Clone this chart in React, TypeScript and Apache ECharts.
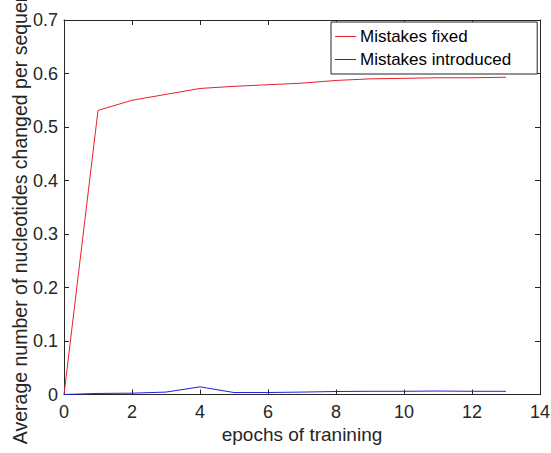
import React, { useEffect, useRef } from "react";
import * as echarts from "echarts";

const epochs = [0, 1, 2, 3, 4, 5, 6, 7, 8, 9, 10, 11, 12, 13];
const mistakesFixed = [0, 0.531, 0.55, 0.561, 0.572, 0.576, 0.579, 0.582, 0.587, 0.59, 0.591, 0.592, 0.592, 0.593];
const mistakesIntroduced = [0, 0.002, 0.0025, 0.0045, 0.0143, 0.0037, 0.0037, 0.0045, 0.0056, 0.006, 0.006, 0.0065, 0.006, 0.006];
const xTicks = [0, 2, 4, 6, 8, 10, 12, 14];
const yTicks = [0, 0.1, 0.2, 0.3, 0.4, 0.5, 0.6, 0.7];
const yTitle = "Average number of nucleotides changed per sequence";

const FONT = "Liberation Sans, Arial, sans-serif";
const AX = "#262626";

export default function App() {
  const ref = useRef<HTMLDivElement>(null);
  useEffect(() => {
    document.body.style.margin = "0";
    const chart = echarts.init(ref.current!, undefined, { renderer: "svg" });
    const axisCommon = {
      axisLine: { show: true, onZero: false, lineStyle: { color: AX, width: 1 } },
      axisTick: { show: true, inside: true, length: 5, lineStyle: { color: AX, width: 1 } },
      splitLine: { show: false },
    };
    chart.setOption({
      animation: false,
      backgroundColor: "#ffffff",
      textStyle: { fontFamily: FONT },
      grid: { left: 64, right: 11, top: 20, bottom: 58.5, containLabel: false, outerBoundsMode: "none" },
      graphic: [
        {
          type: "text",
          x: 20,
          y: 207.5,
          rotation: Math.PI / 2,
          style: {
            text: yTitle,
            fontSize: 19.5,
            fontFamily: FONT,
            fill: AX,
            align: "center",
            verticalAlign: "middle",
          },
        },
      ],
      legend: {
        show: true,
        left: 331,
        top: 22,
        orient: "vertical",
        backgroundColor: "#ffffff",
        borderColor: AX,
        borderWidth: 1,
        borderRadius: 0,
        padding: [5, 26, 5, 4],
        itemGap: 4,
        itemWidth: 21,
        itemHeight: 1,
        icon: "rect",
        textStyle: { fontSize: 17, color: "#000000", fontFamily: FONT, lineHeight: 19, padding: [0, 0, 0, -1] },
        data: ["Mistakes fixed", "Mistakes introduced"],
      },
      xAxis: [
        {
          type: "value",
          min: 0,
          max: 14,
          interval: 2,
          position: "bottom",
          name: "epochs of tranining",
          nameLocation: "middle",
          nameGap: 28,
          nameTextStyle: { fontSize: 19, color: AX, fontFamily: FONT },
          axisLabel: {
            fontSize: 18,
            color: AX,
            margin: 8,
            fontFamily: FONT,
            formatter: (v: number) => (xTicks.includes(v) ? String(v) : ""),
          },
          ...axisCommon,
        },
        {
          type: "value",
          min: 0,
          max: 14,
          interval: 2,
          position: "top",
          axisLabel: { show: false },
          ...axisCommon,
        },
      ],
      yAxis: [
        {
          type: "value",
          min: 0,
          max: 0.7,
          interval: 0.1,
          position: "left",
          axisLabel: {
            fontSize: 18,
            color: AX,
            margin: 6,
            fontFamily: FONT,
            formatter: (v: number) => {
              const t = yTicks.find((y) => Math.abs(y - v) < 1e-9);
              return t === undefined ? "" : t === 0 ? "0" : t.toFixed(1);
            },
          },
          ...axisCommon,
        },
        {
          type: "value",
          min: 0,
          max: 0.7,
          interval: 0.1,
          position: "right",
          axisLabel: { show: false },
          ...axisCommon,
        },
      ],
      series: [
        {
          name: "Mistakes fixed",
          type: "line",
          data: epochs.map((e, i) => [e, mistakesFixed[i]]),
          symbol: "none",
          lineStyle: { color: "#e8202c", width: 1 },
          itemStyle: { color: "#e8202c" },
        },
        {
          name: "Mistakes introduced",
          type: "line",
          data: epochs.map((e, i) => [e, mistakesIntroduced[i]]),
          symbol: "none",
          lineStyle: { color: "#2020e0", width: 1 },
          itemStyle: { color: "#2020e0" },
        },
      ],
    });
    return () => chart.dispose();
  }, []);
  return <div ref={ref} style={{ position: "absolute", left: 0, top: 0, width: 551, height: 453 }} />;
}
